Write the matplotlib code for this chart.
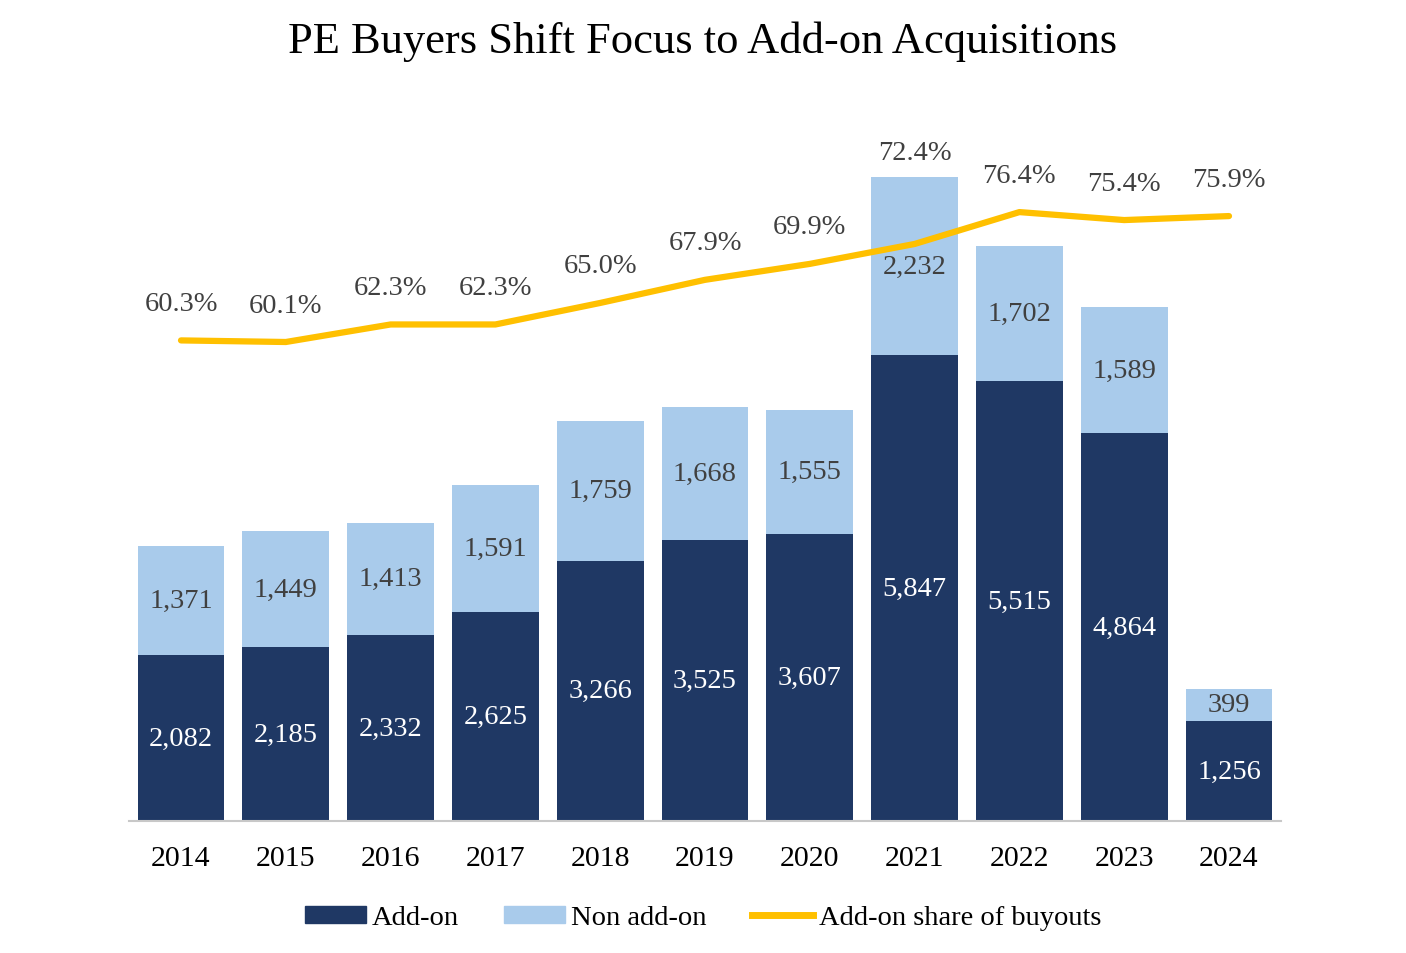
import numpy as np
import matplotlib.pyplot as plt
from matplotlib.lines import Line2D
from matplotlib.patches import Patch

years = ["2014", "2015", "2016", "2017", "2018", "2019", "2020", "2021", "2022", "2023", "2024"]
add_on = [2082, 2185, 2332, 2625, 3266, 3525, 3607, 5847, 5515, 4864, 1256]
non_add_on = [1371, 1449, 1413, 1591, 1759, 1668, 1555, 2232, 1702, 1589, 399]
share = [60.3, 60.1, 62.3, 62.3, 65.0, 67.9, 69.9, 72.4, 76.4, 75.4, 75.9]

DARK = "#1F3864"
LIGHT = "#A9CBEB"
GOLD = "#FFC000"
GREY_TXT = "#404040"

plt.rcParams["font.family"] = ["Liberation Serif", "DejaVu Serif"]

fig = plt.figure(figsize=(14.06, 9.54), dpi=100)
W, H = 1406, 954
ax = fig.add_axes([128.6 / W, (H - 822) / H, 1152.8 / W, 797 / H])
ax2 = ax.twinx()

x = np.arange(len(years))
ax.bar(x, add_on, width=0.83, color=DARK, zorder=2)
ax.bar(x, non_add_on, width=0.83, bottom=add_on, color=LIGHT, zorder=2)

for i in range(len(years)):
    ax.text(x[i], add_on[i] / 2, f"{add_on[i]:,}", ha="center", va="center",
            color="white", fontsize=20.5, zorder=3)
    ax.text(x[i], add_on[i] + non_add_on[i] / 2, f"{non_add_on[i]:,}", ha="center",
            va="center", color=GREY_TXT, fontsize=20.5, zorder=3)

ax.set_xlim(-0.5, len(years) - 0.5)
ax.set_ylim(0, 10000)
ax.set_yticks([])
ax.set_xticks(x)
ax.set_xticklabels(years, fontsize=21.5)
ax.tick_params(axis="x", length=0, pad=17)
for s in ["top", "right", "left"]:
    ax.spines[s].set_visible(False)
ax.spines["bottom"].set_color("#C8C8C8")
ax.spines["bottom"].set_linewidth(1.5)

ax2.plot(x, share, color=GOLD, linewidth=4.5, solid_capstyle="round", zorder=4)
ax2.set_ylim(0, 100)
ax2.set_yticks([])
for s in ax2.spines.values():
    s.set_visible(False)

for i, p in enumerate(share):
    off = 37 if years[i] != "2021" else 91
    ax2.annotate(f"{p:.1f}%", (x[i], p), xytext=(0, off * 0.72), textcoords="offset points",
                 ha="center", va="center", color=GREY_TXT, fontsize=20.5)

fig.text(0.5, 1 - 42 / H, "PE Buyers Shift Focus to Add-on Acquisitions",
         ha="center", va="center", fontsize=32)

handles = [Patch(color=DARK), Patch(color=LIGHT), Line2D([0], [0], color=GOLD, linewidth=5)]
fig.legend(handles, ["Add-on", "Non add-on", "Add-on share of buyouts"],
           loc="center", bbox_to_anchor=(0.5, 1 - 919 / H), ncol=3, frameon=False,
           fontsize=20.5, handlelength=2.15, handleheight=0.5, handletextpad=0.2,
           columnspacing=1.6)

fig.savefig("out.png", dpi=100)
